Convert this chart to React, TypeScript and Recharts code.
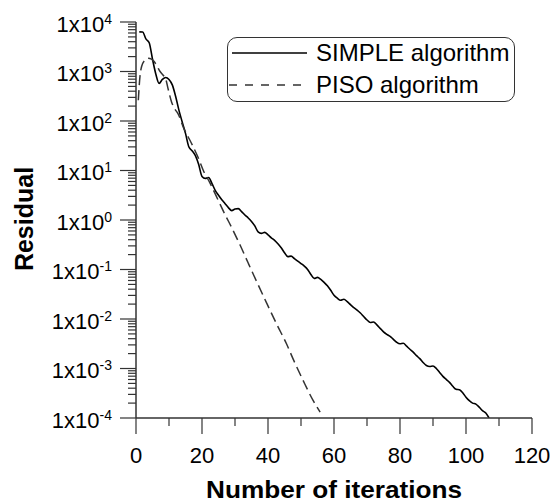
import React from 'react';
import { LineChart, Line, XAxis, YAxis } from 'recharts';

const simpleIterations = [
  1, 2, 3, 4, 5, 6, 7, 8, 9, 10, 11, 12, 13, 14, 15, 16, 17, 18, 19, 20,
  21, 22, 23, 24, 25, 26, 27, 28, 29, 30, 31, 32, 33, 34, 35, 36, 37, 38, 39, 40,
  41, 42, 43, 44, 45, 46, 47, 48, 49, 50, 51, 52, 53, 54, 55, 56, 57, 58, 59, 60,
  61, 62, 63, 64, 65, 66, 67, 68, 69, 70, 71, 72, 73, 74, 75, 76, 77, 78, 79, 80,
  81, 82, 83, 84, 85, 86, 87, 88, 89, 90, 91, 92, 93, 94, 95, 96, 97, 98, 99, 100,
  101, 102, 103, 104, 105, 106, 107,
];
const simpleResidual = [
  6.31e3, 6.3e3, 4.57e3, 3.8e3, 1.78e3, 8.91e2, 5.75e2, 6.92e2, 7.59e2, 6.92e2,
  5.37e2, 3.16e2, 1.66e2, 9.55e1, 5.62e1, 3.02e1, 2.51e1, 2.0e1, 1.32e1, 7.59,
  6.92, 7.24, 5.5, 3.98, 3.16, 2.57, 2.14, 1.78, 1.55, 1.66,
  1.7, 1.48, 1.26, 1.1, 0.933, 0.759, 0.575, 0.537, 0.562, 0.501,
  0.437, 0.389, 0.331, 0.275, 0.219, 0.182, 0.186, 0.166, 0.148, 0.132,
  0.117, 0.1, 0.0794, 0.0661, 0.0692, 0.0631, 0.055, 0.0468, 0.038, 0.0302,
  0.0263, 0.024, 0.0251, 0.0224, 0.0195, 0.017, 0.0151, 0.0132, 0.0112, 0.00955,
  0.00851, 0.00871, 0.00759, 0.00646, 0.0055, 0.0049, 0.00447, 0.00389, 0.00339, 0.00316,
  0.00324, 0.00282, 0.00245, 0.00214, 0.00182, 0.00158, 0.00132, 0.00115, 0.0011, 0.00112,
  0.001, 8.32e-4, 6.92e-4, 6.03e-4, 5.25e-4, 4.37e-4, 3.8e-4, 3.72e-4, 3.24e-4, 2.63e-4,
  2.24e-4, 2.0e-4, 1.91e-4, 1.66e-4, 1.41e-4, 1.26e-4, 1.0e-4,
];

const pisoIterations = [
  0.7, 1.2, 1.7, 2.7, 3.7, 4.7, 5.5, 6.3, 7.3, 8.3, 9.0, 9.8, 10.8, 11.8, 12.8,
  14.3, 16.8, 18.9, 20.4, 22.4, 24.9, 26.9, 28.9, 31.5, 34.0, 36.6, 39.6, 42.6,
  45.6, 47.7, 50.7, 53.7, 55.8,
];
const pisoResidual = [
  263, 794, 1259, 1698, 1862, 1778, 1585, 1318, 1000, 832, 708, 427, 240, 174, 138,
  75.9, 35.5, 17.8, 10.0, 5.62, 2.51, 1.32, 0.724, 0.316, 0.135, 0.0562, 0.0209, 0.00794,
  0.00316, 0.00151, 5.62e-4, 2.24e-4, 1.32e-4,
];

const seriesNames = ['SIMPLE algorithm', 'PISO algorithm'];
const xTicks = [0, 10, 20, 30, 40, 50, 60, 70, 80, 90, 100, 110, 120];
const xLabelStep = 20;
const yExponents = [-4, -3, -2, -1, 0, 1, 2, 3, 4];
const yMinorMultipliers = [2, 3, 4, 5, 6, 7, 8, 9];
const xTitle = 'Number of iterations';
const yTitle = 'Residual';

const simpleData = simpleIterations.map((x, i) => ({ x, v: simpleResidual[i] }));
const pisoData = pisoIterations.map((x, i) => ({ x, v: pisoResidual[i] }));

const yTicks: number[] = [];
yExponents.forEach((e, idx) => {
  yTicks.push(Number(`1e${e}`));
  if (idx < yExponents.length - 1) {
    yMinorMultipliers.forEach((m) => yTicks.push(Number(`${m}e${e}`)));
  }
});

const FONT = '"Liberation Sans", Arial, sans-serif';
const AXIS = '#333';

const YTick = (props: any) => {
  const { x, y, payload } = props;
  const e = Math.log10(payload.value);
  const major = Math.abs(e - Math.round(e)) < 1e-6;
  return (
    <g>
      <line x1={x - (major ? 16 : 8)} x2={x} y1={y} y2={y} stroke={AXIS} strokeWidth={1.2} />
      {major && (
        <text x={x - 24} y={y + 9.5} textAnchor="end" fontSize={22} fill="#000" fontFamily={FONT}>
          <tspan>1x10</tspan>
          <tspan dy={-8} fontSize={14}>{Math.round(e)}</tspan>
        </text>
      )}
    </g>
  );
};

const XTick = (props: any) => {
  const { x, y, payload } = props;
  const v = payload.value;
  const major = v % xLabelStep === 0;
  return (
    <g>
      <line x1={x} x2={x} y1={y} y2={y + (major ? 16 : 8)} stroke={AXIS} strokeWidth={1.2} />
      {major && (
        <text x={x} y={y + 45} textAnchor="middle" fontSize={22} fill="#000" fontFamily={FONT}>
          {v}
        </text>
      )}
    </g>
  );
};

const XTitle = (props: any) => {
  const { viewBox } = props;
  return (
    <text
      x={viewBox.x + viewBox.width / 2}
      y={viewBox.y + 80}
      textAnchor="middle"
      fontSize={24}
      fontWeight="bold"
      fill="#000"
      fontFamily={FONT}
      textLength={256}
      lengthAdjust="spacingAndGlyphs"
    >
      {xTitle}
    </text>
  );
};

const YTitle = (props: any) => {
  const { viewBox } = props;
  const cx = viewBox.x - 23;
  const cy = viewBox.y + viewBox.height / 2 - 1;
  return (
    <text
      x={cx}
      y={cy}
      transform={`rotate(-90 ${cx} ${cy})`}
      textAnchor="middle"
      fontSize={25}
      fontWeight="bold"
      fill="#000"
      fontFamily={FONT}
    >
      {yTitle}
    </text>
  );
};

const LegendBox = () => (
  <div
    style={{
      position: 'absolute',
      left: 227,
      top: 37,
      width: 288,
      height: 65,
      boxSizing: 'border-box',
      border: `1.5px solid ${AXIS}`,
      borderRadius: 10,
      background: '#fff',
      fontFamily: FONT,
      fontSize: 24,
      color: '#000',
    }}
  >
    {seriesNames.map((name, i) => (
      <div
        key={name}
        style={{ position: 'absolute', left: 0, top: i === 0 ? 2 : 34, height: 26, display: 'flex', alignItems: 'center' }}
      >
        <svg width={88} height={26} style={{ display: 'block' }}>
          <line
            x1={i === 0 ? 4 : 1}
            x2={79}
            y1={13}
            y2={13}
            stroke={i === 0 ? '#000' : '#333'}
            strokeWidth={1.5}
            strokeDasharray={i === 0 ? undefined : '8 8'}
          />
        </svg>
        <span style={{ marginLeft: 0, whiteSpace: 'nowrap', lineHeight: '26px' }}>{name}</span>
      </div>
    ))}
  </div>
);

export default function App() {
  return (
    <div style={{ position: 'absolute', left: 0, top: 0, width: 552, height: 504, background: '#fff' }}>
      <LineChart width={552} height={504} margin={{ top: 22, right: 20, bottom: 56, left: 56 }}>
        <XAxis
          dataKey="x"
          type="number"
          domain={[0, 120]}
          ticks={xTicks}
          interval={0}
          height={30}
          tickSize={0}
          tickMargin={0}
          tickLine={false}
          tick={<XTick />}
          axisLine={{ stroke: AXIS, strokeWidth: 1.5 }}
          label={<XTitle />}
          allowDuplicatedCategory={false}
        />
        <YAxis
          dataKey="v"
          type="number"
          scale="log"
          domain={[1e-4, 1e4]}
          allowDataOverflow
          ticks={yTicks}
          interval={0}
          width={80}
          tickSize={0}
          tickMargin={0}
          tickLine={false}
          tick={<YTick />}
          axisLine={{ stroke: AXIS, strokeWidth: 1.5 }}
          label={<YTitle />}
        />
        <Line
          data={simpleData}
          dataKey="v"
          name={seriesNames[0]}
          type="monotone"
          stroke="#000"
          strokeWidth={1.6}
          dot={false}
          isAnimationActive={false}
        />
        <Line
          data={pisoData}
          dataKey="v"
          name={seriesNames[1]}
          type="monotone"
          stroke="#333"
          strokeWidth={1.5}
          strokeDasharray="10 5"
          dot={false}
          isAnimationActive={false}
        />
      </LineChart>
      <LegendBox />
    </div>
  );
}
